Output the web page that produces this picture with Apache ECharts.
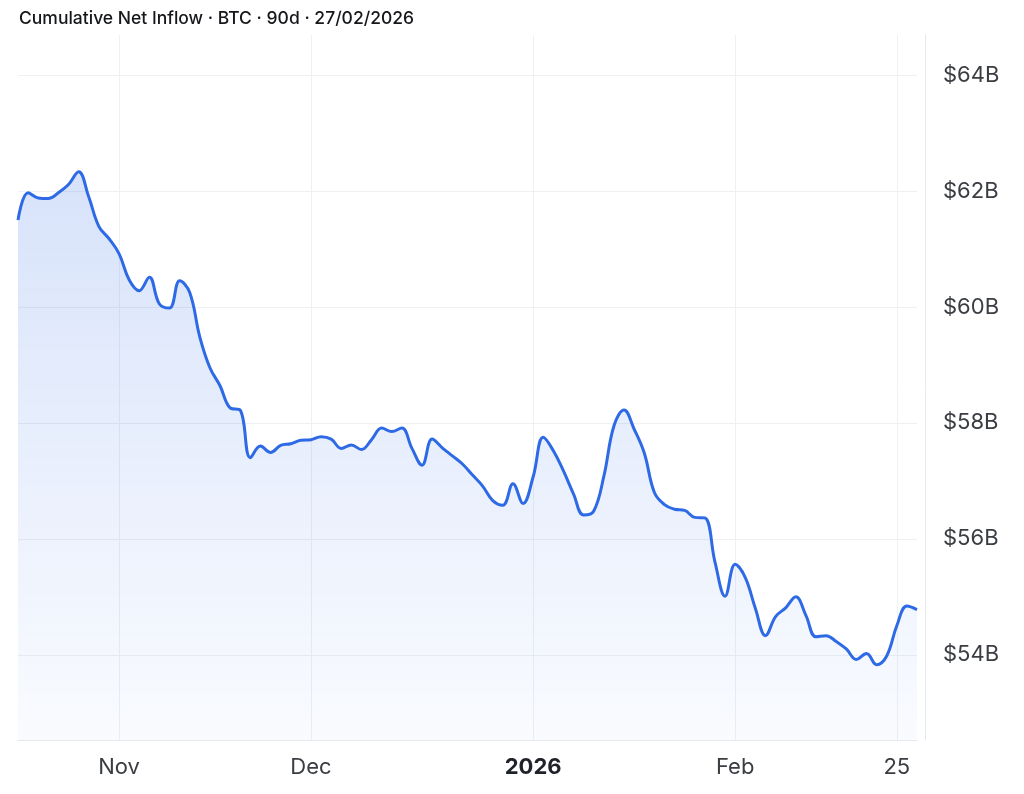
<!DOCTYPE html>
<html>
<head>
<meta charset="utf-8">
<title>Cumulative Net Inflow</title>
<script src="https://cdn.jsdelivr.net/npm/echarts@6/dist/echarts.min.js"></script>
<style>
  html, body { margin: 0; padding: 0; background: #fff; }
  #chart { width: 1024px; height: 794px; }
</style>
</head>
<body>
<div id="chart"></div>
<script>
// trading days (ETF flows), 90 sessions
const dates = [
  '2025-10-20','2025-10-21','2025-10-22','2025-10-23','2025-10-24','2025-10-27','2025-10-28','2025-10-29','2025-10-30','2025-10-31',
  '2025-11-03','2025-11-04','2025-11-05','2025-11-06','2025-11-07','2025-11-10','2025-11-11','2025-11-12','2025-11-13','2025-11-14',
  '2025-11-17','2025-11-18','2025-11-19','2025-11-20','2025-11-21','2025-11-24','2025-11-25','2025-11-26','2025-11-28',
  '2025-12-01','2025-12-02','2025-12-03','2025-12-04','2025-12-05','2025-12-08','2025-12-09','2025-12-10','2025-12-11','2025-12-12',
  '2025-12-15','2025-12-16','2025-12-17','2025-12-18','2025-12-19','2025-12-22','2025-12-23','2025-12-24','2025-12-26','2025-12-29',
  '2025-12-30','2025-12-31',
  '2026-01-02','2026-01-05','2026-01-06','2026-01-07','2026-01-08','2026-01-09','2026-01-12','2026-01-13','2026-01-14','2026-01-15',
  '2026-01-16','2026-01-20','2026-01-21','2026-01-22','2026-01-23','2026-01-26','2026-01-27','2026-01-28','2026-01-29','2026-01-30',
  '2026-02-02','2026-02-03','2026-02-04','2026-02-05','2026-02-06','2026-02-09','2026-02-10','2026-02-11','2026-02-12','2026-02-13',
  '2026-02-17','2026-02-18','2026-02-19','2026-02-20','2026-02-23','2026-02-24','2026-02-25','2026-02-26','2026-02-27'
];

// cumulative net inflow, $B
const inflow = [
  61.50, 61.97, 61.88, 61.87, 61.97, 62.11, 62.33, 61.90, 61.39, 61.18,
  60.92, 60.47, 60.28, 60.51, 60.05, 59.98, 60.45, 60.25, 59.48, 58.95,
  58.64, 58.26, 58.22, 57.40, 57.60, 57.49, 57.61, 57.64, 57.70,
  57.71, 57.76, 57.72, 57.56, 57.62, 57.54, 57.71, 57.91, 57.85, 57.91,
  57.56, 57.27, 57.72, 57.57, 57.43, 57.29, 57.10, 56.91, 56.66, 56.58,
  56.95, 56.61,
  57.07, 57.75, 57.52, 57.17, 56.77, 56.41, 56.48, 57.08, 57.95, 58.22,
  57.89, 57.48, 56.80, 56.59, 56.51, 56.49, 56.37, 56.36, 55.60, 55.01,
  55.56, 55.33, 54.80, 54.33, 54.66, 54.81, 55.00, 54.68, 54.31, 54.33,
  54.23, 54.10, 53.92, 54.02, 53.83, 53.98, 54.50, 54.84, 54.78
];

// x-axis tick labels
const tickDates = ['2025-11-03', '2025-12-01', '2026-01-02', '2026-02-02', '2026-02-25'];
const tickLabels = ['Nov', 'Dec', '2026', 'Feb', '25'];
const yearLabels = ['2026'];

const chart = echarts.init(document.getElementById('chart'));

const isTick = function (idx) {
  return tickDates.indexOf(dates[idx]) >= 0;
};

const gridColor = '#eef0f3';

const option = {
  animation: false,
  title: {
    text: 'Cumulative Net Inflow · BTC · 90d · 27/02/2026',
    left: 14,
    top: 5,
    textStyle: {
      fontFamily: 'Inter',
      fontSize: 17.5,
      fontWeight: 500,
      color: '#15171a'
    }
  },
  grid: {
    left: 18,
    right: 107,
    top: 35,
    bottom: 54,
    containLabel: false
  },
  xAxis: {
    type: 'category',
    boundaryGap: false,
    data: dates,
    axisLine: { show: true, lineStyle: { color: '#e6e8ec', width: 1 } },
    axisTick: { show: false },
    axisLabel: {
      interval: function (idx) { return isTick(idx); },
      margin: 16,
      fontFamily: 'Inter',
      fontSize: 22,
      color: '#3a3d42',
      formatter: function (val) {
        const k = tickDates.indexOf(val);
        if (k < 0) return '';
        const lab = tickLabels[k];
        return yearLabels.indexOf(lab) >= 0 ? '{b|' + lab + '}' : lab;
      },
      rich: {
        b: { fontFamily: 'Inter', fontSize: 22, fontWeight: 700, color: '#1f2329' }
      }
    },
    splitLine: {
      show: true,
      interval: function (idx) { return isTick(idx); },
      lineStyle: { color: gridColor, width: 1 }
    }
  },
  yAxis: {
    type: 'value',
    position: 'right',
    offset: 8,
    min: 52.53,
    max: 64.69,
    axisLine: { show: true, lineStyle: { color: '#e6e8ec', width: 1 } },
    axisTick: { show: false },
    axisLabel: {
      margin: 18,
      showMinLabel: false,
      showMaxLabel: false,
      fontFamily: 'Inter',
      fontSize: 22,
      color: '#3a3d42',
      formatter: function (v) {
        if (Math.abs(v - Math.round(v)) > 0.01) return '';
        return '$' + Math.round(v) + 'B';
      }
    },
    splitLine: {
      show: true,
      lineStyle: {
        color: [gridColor, gridColor, gridColor, gridColor, gridColor, gridColor, gridColor, 'transparent'],
        width: 1
      }
    }
  },
  series: [
    {
      name: 'Cumulative Net Inflow',
      type: 'line',
      data: inflow,
      smooth: 0.4,
      symbol: 'none',
      lineStyle: { color: '#2e6ae6', width: 3 },
      areaStyle: {
        color: new echarts.graphic.LinearGradient(0, 0, 0, 1, [
          { offset: 0, color: 'rgba(46, 106, 230, 0.27)' },
          { offset: 1, color: 'rgba(46, 106, 230, 0.04)' }
        ])
      }
    }
  ]
};

chart.setOption(option);
</script>
</body>
</html>
